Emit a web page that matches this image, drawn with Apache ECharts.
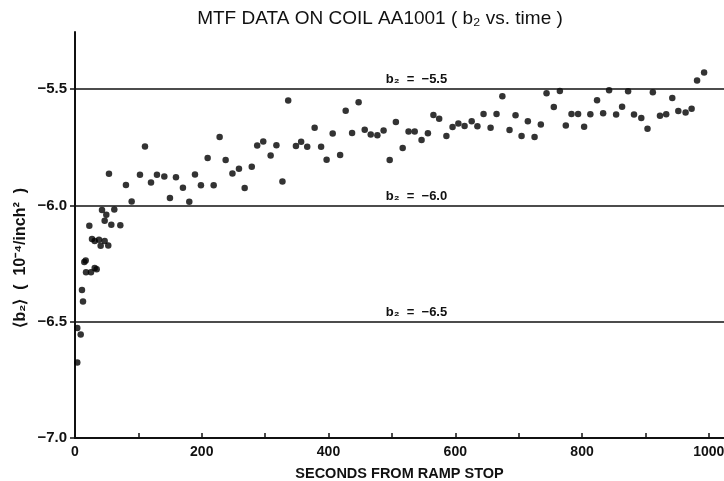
<!DOCTYPE html>
<html>
<head>
<meta charset="utf-8">
<script src="https://cdn.jsdelivr.net/npm/echarts@6/dist/echarts.min.js"></script>
<style>html,body{margin:0;padding:0;background:#fff}#c{width:724px;height:481px}</style>
</head>
<body>
<div id="c"></div>
<script>
const seconds = [3.6,3.6,9.0,11.0,12.6,14.7,16.9,17.4,22.6,25.2,26.8,31.1,31.1,34.2,37.9,40.5,42.6,46.8,46.8,49.4,52.5,53.6,57.3,62.0,71.5,80.4,89.4,102.5,110.4,119.9,129.3,140.9,149.8,159.3,170.3,180.3,189.3,198.7,209.3,218.8,228.2,237.7,248.4,258.7,267.7,278.9,287.5,297.0,308.7,317.8,327.3,336.4,348.6,356.8,366.4,378.1,388.3,397.0,406.6,418.3,427.1,437.2,447.5,457.1,466.6,477.1,486.9,496.5,506.3,517.0,526.3,536.0,546.8,556.8,565.5,574.6,586.0,595.7,604.9,614.7,625.9,634.9,644.6,655.7,665.1,674.3,685.6,695.1,704.6,714.5,725.1,735.0,744.0,755.5,765.0,774.4,783.4,793.8,803.3,813.1,823.7,833.3,842.7,853.8,863.2,872.7,882.0,893.5,903.3,911.7,923.0,932.8,942.4,951.9,963.4,972.9,981.5,992.6];
const b2 = [-6.675,-6.527,-6.555,-6.363,-6.413,-6.243,-6.237,-6.287,-6.087,-6.287,-6.144,-6.153,-6.269,-6.274,-6.147,-6.173,-6.020,-6.066,-6.153,-6.040,-6.172,-5.864,-6.083,-6.017,-6.085,-5.912,-5.983,-5.868,-5.746,-5.901,-5.868,-5.875,-5.968,-5.879,-5.924,-5.984,-5.867,-5.913,-5.796,-5.913,-5.706,-5.804,-5.863,-5.842,-5.925,-5.833,-5.742,-5.725,-5.785,-5.741,-5.897,-5.549,-5.744,-5.726,-5.747,-5.666,-5.747,-5.803,-5.691,-5.783,-5.593,-5.688,-5.556,-5.674,-5.695,-5.698,-5.678,-5.804,-5.641,-5.753,-5.682,-5.682,-5.718,-5.689,-5.611,-5.627,-5.701,-5.663,-5.647,-5.658,-5.638,-5.659,-5.607,-5.666,-5.607,-5.530,-5.675,-5.612,-5.701,-5.638,-5.706,-5.652,-5.517,-5.577,-5.508,-5.656,-5.607,-5.607,-5.662,-5.608,-5.547,-5.603,-5.504,-5.609,-5.575,-5.509,-5.609,-5.624,-5.670,-5.513,-5.614,-5.608,-5.538,-5.594,-5.600,-5.584,-5.463,-5.428];
const refLevels = [-5.5, -6.0, -6.5];
const xLabelStep = 200;

const FONT = '"Liberation Sans", Arial, sans-serif';
const fmt = v => (v < 0 ? '\u2212' : '') + Math.abs(v).toFixed(1);

const chart = echarts.init(document.getElementById('c'), null, {renderer: 'canvas'});
chart.setOption({
  animation: false,
  backgroundColor: '#fff',
  title: {
    text: 'MTF DATA ON COIL AA1001 ( b\u2082 vs. time )',
    left: 375, top: 4, textAlign: 'center',
    textStyle: {fontFamily: FONT, fontSize: 19, fontWeight: 'normal', color: '#111'}
  },
  grid: {left: 75, right: 0, top: 32, bottom: 43, containLabel: false, outerBoundsMode: 'none'},
  xAxis: {
    type: 'value', min: 0, max: 1024, interval: 100,
    name: 'SECONDS FROM RAMP STOP', nameLocation: 'middle', nameGap: 28,
    nameTextStyle: {fontFamily: FONT, fontSize: 14.5, fontWeight: 'bold', color: '#111'},
    axisLine: {lineStyle: {color: '#111', width: 2}},
    axisTick: {inside: true, length: 5, lineStyle: {color: '#111', width: 1.5}},
    axisLabel: {showMaxLabel: false, margin: 7, fontFamily: FONT, fontSize: 14, fontWeight: 'bold', color: '#111',
      formatter: v => (v % xLabelStep === 0 ? String(v) : '')},
    splitLine: {show: false}
  },
  yAxis: {
    type: 'value', min: -7.0, max: -5.254, interval: 0.5,
    axisLine: {lineStyle: {color: '#111', width: 2}},
    axisTick: {inside: false, length: 5, lineStyle: {color: '#111', width: 1.5}},
    axisLabel: {showMaxLabel: false, margin: 8, fontFamily: FONT, fontSize: 15, fontWeight: 'bold', color: '#111', formatter: fmt},
    splitLine: {show: false}
  },
  graphic: [{
    type: 'text', left: 13, top: 188, rotation: Math.PI / 2,
    style: {text: '\u27E8b\u2082\u27E9  (  10\u207B\u2074/inch\u00B2  )', font: 'bold 16px ' + FONT, fill: '#111'}
  }],
  series: [{
    type: 'scatter', symbol: 'circle', symbolSize: 6.5,
    itemStyle: {color: '#000'},
    data: seconds.map((s, i) => [s, b2[i]]),
    markLine: {
      silent: true, symbol: 'none',
      lineStyle: {color: '#111', width: 1.5, type: 'solid'},
      label: {position: 'insideMiddleTop', distance: 3, padding: [0, 0, 0, 34], fontFamily: FONT, fontSize: 13, fontWeight: 'bold', color: '#111',
        formatter: p => 'b\u2082  =  ' + fmt(p.value)},
      data: refLevels.map(v => ({yAxis: v}))
    }
  }]
});
</script>
</body>
</html>
